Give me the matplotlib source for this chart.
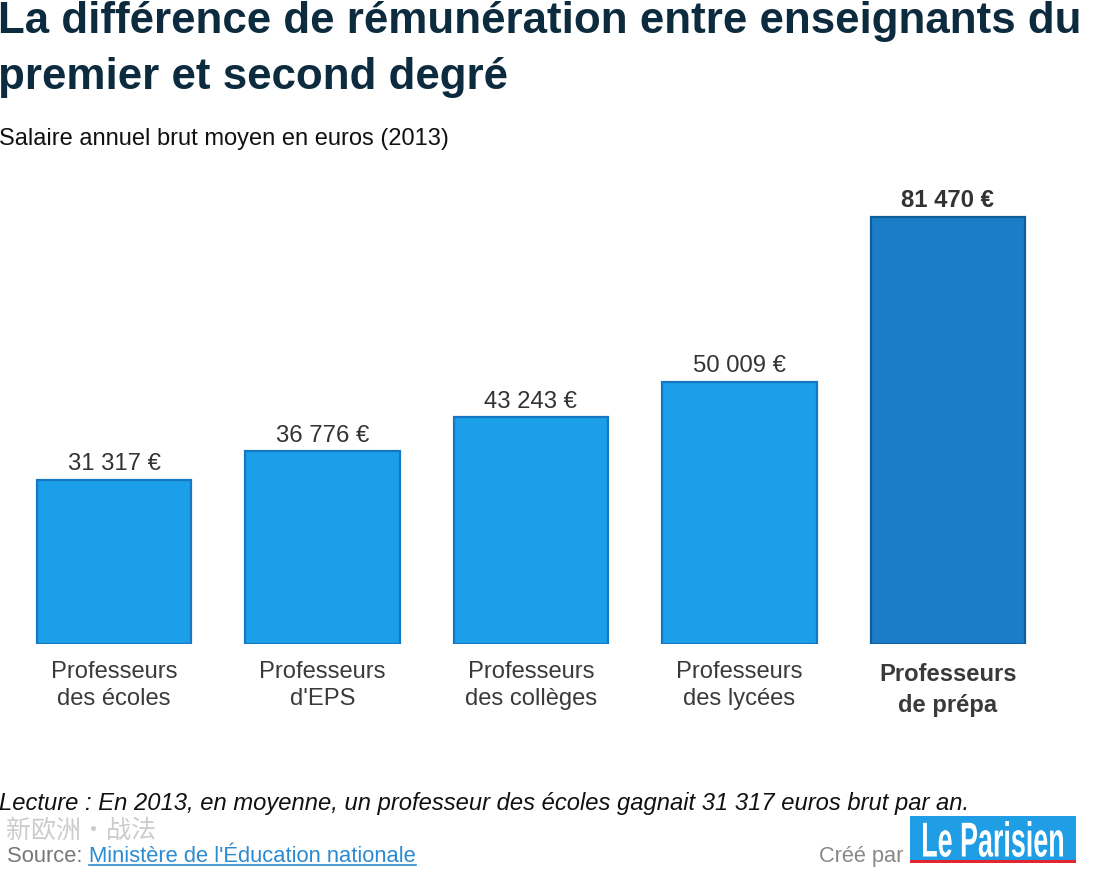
import matplotlib.pyplot as plt
import matplotlib.patches as mpatches
from matplotlib.lines import Line2D
from matplotlib.textpath import TextPath
from matplotlib.font_manager import FontProperties
from matplotlib.transforms import Affine2D, IdentityTransform

categories = ["Professeurs\ndes écoles", "Professeurs\nd'EPS", "Professeurs\ndes collèges",
              "Professeurs\ndes lycées", "Professeurs\nde prépa"]
salaires = [31317, 36776, 43243, 50009, 81470]
labels = ["31 317 €", "36 776 €", "43 243 €", "50 009 €", "81 470 €"]

W, H = 1098, 870
plt.rcParams['font.family'] = ['Liberation Sans', 'DejaVu Sans']

fig = plt.figure(figsize=(W / 100, H / 100), dpi=100)


def fx(x):
    return x / W


def fy(y):
    return 1 - y / H


# axes placed in pixel terms: baseline at y=644, 0..90000 euros
scale = 427 / 81470
ax_left, ax_right = 10, 1052
ax_bottom = 645
ymax = 90000
ax = fig.add_axes([fx(ax_left), fy(ax_bottom), (ax_right - ax_left) / W, ymax * scale / H])
ax.set_xlim(-0.5, 4.5)
ax.set_ylim(0, ymax)
ax.axis('off')

couleurs = ["#1b9fe8"] * 4 + ["#1a7dc6"]
bords = ["#1677c2"] * 4 + ["#0f5f9f"]
x = range(len(salaires))
ax.bar(x, salaires, width=0.74, color=couleurs, edgecolor=bords, linewidth=1.6)

for i, (v, lab) in enumerate(zip(salaires, labels)):
    last = i == len(salaires) - 1
    ax.annotate(lab, (i, v), xytext=(0, 4), textcoords='offset points', ha='center', va='bottom',
                fontsize=17.2, color='#333333', fontweight='bold' if last else 'normal')
    ax.text(i, -3000 if not last else -3500, categories[i], ha='center', va='top', fontsize=17.1,
            color='#3a3a3a', linespacing=1.3 if not last else 1.4,
            fontweight='bold' if last else 'normal')

# titles
fig.text(fx(-2), fy(22), "La différence de rémunération entre enseignants du", fontsize=31.6,
         fontweight='bold', color='#0d2b3e', va='center', ha='left')
fig.text(fx(-2), fy(77), "premier et second degré", fontsize=31.6,
         fontweight='bold', color='#0d2b3e', va='center', ha='left')
fig.text(fx(-1), fy(139), "Salaire annuel brut moyen en euros (2013)", fontsize=17,
         color='#111111', va='center', ha='left')

fig.text(fx(-1), fy(804), "Lecture : En 2013, en moyenne, un professeur des écoles gagnait 31 317 euros brut par an.",
         fontsize=17.1, style='italic', color='#111111', va='center', ha='left')

fig.text(fx(6), fy(831), "新欧洲·战法", fontsize=18, color='#cccccc', va='center', ha='left',
         family=['Noto Sans CJK SC', 'DejaVu Sans'])

t_src = fig.text(fx(7), fy(857), "Source: ", fontsize=15.8, color='#777777', va='center', ha='left')
lien = fig.text(fx(89), fy(857), "Ministère de l'Éducation nationale", fontsize=15.8,
                color='#2b8ad0', va='center', ha='left')
fig.canvas.draw()
bb = lien.get_window_extent()
fig.add_artist(Line2D([bb.x0 / W, bb.x1 / W], [bb.y0 / H + 0.002, bb.y0 / H + 0.002],
                      color='#2b8ad0', linewidth=1.2, transform=fig.transFigure))

fig.text(fx(903), fy(857), "Créé par", fontsize=15.7, color='#888888', va='center', ha='right')

# logo Le Parisien
fig.add_artist(mpatches.Rectangle((fx(910), fy(862)), (1076 - 910) / W, (862 - 817) / H,
                                  facecolor='#1f9ee6', edgecolor='none', transform=fig.transFigure))
fig.add_artist(mpatches.Rectangle((fx(910), fy(864)), (1076 - 910) / W, 3 / H,
                                  facecolor='#e3262d', edgecolor='none', transform=fig.transFigure))
tp = TextPath((0, 0), "Le Parisien", size=40, prop=FontProperties(family='Liberation Sans', weight='bold'))
ext = tp.get_extents()
sx = 140 / ext.width
sy = 36 / ext.height
tr = Affine2D().translate(-ext.x0, -ext.y0).scale(sx, sy).translate(923, H - 858)
fig.add_artist(mpatches.PathPatch(tr.transform_path(tp), facecolor='white', edgecolor='none',
                                  transform=IdentityTransform()))

fig.savefig("out.png", dpi=100)
